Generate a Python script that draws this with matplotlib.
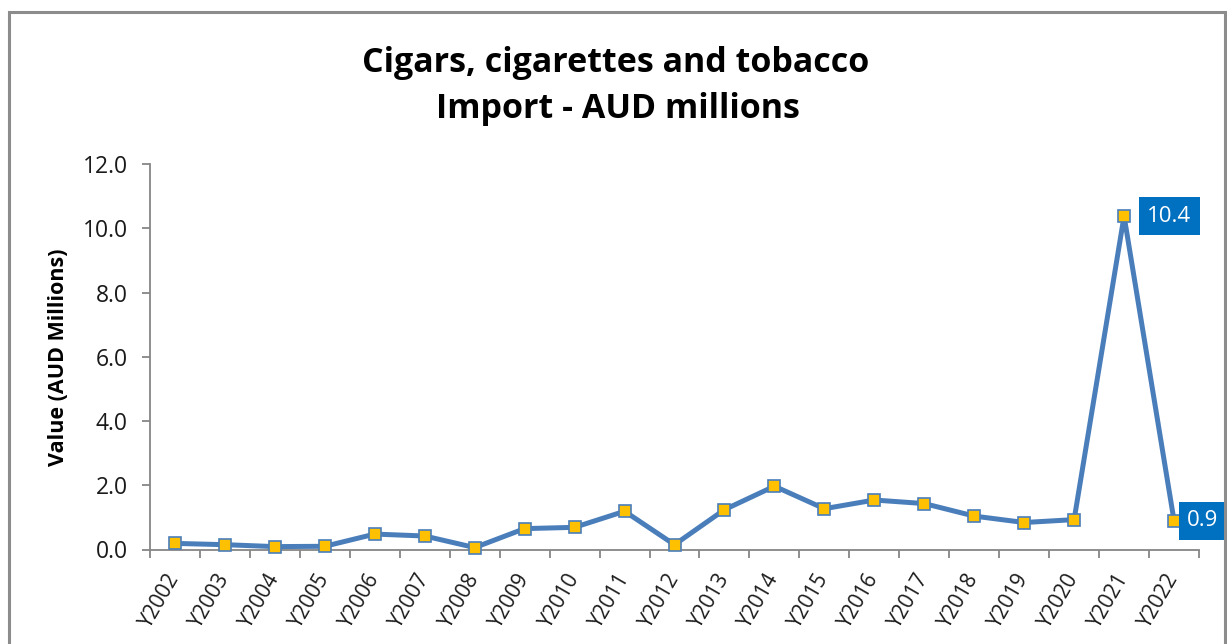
import matplotlib
matplotlib.use("Agg")
import matplotlib.pyplot as plt
from matplotlib.patches import Rectangle

years = ["Y2002", "Y2003", "Y2004", "Y2005", "Y2006", "Y2007", "Y2008", "Y2009",
         "Y2010", "Y2011", "Y2012", "Y2013", "Y2014", "Y2015", "Y2016", "Y2017",
         "Y2018", "Y2019", "Y2020", "Y2021", "Y2022"]
values = [0.19, 0.15, 0.09, 0.10, 0.48, 0.42, 0.06, 0.65, 0.69, 1.19, 0.15,
          1.24, 1.97, 1.27, 1.54, 1.43, 1.04, 0.84, 0.93, 10.38, 0.9]
labelled = {19: "10.4", 20: "0.9"}
yticks = [0, 2, 4, 6, 8, 10, 12]

plt.rcParams['font.family'] = ['Open Sans', 'DejaVu Sans']

W, H = 1227, 644
fig = plt.figure(figsize=(W / 100, H / 100), dpi=100)
fig.patch.set_facecolor("white")

# outer chart border
fig.patches.append(Rectangle((9 / W, -0.05), (1225 - 9) / W, (H - 12) / H + 0.05,
                             transform=fig.transFigure, fill=False,
                             edgecolor="#8c8c8c", linewidth=2.2))

ax = fig.add_axes([150 / W, 1 - 549.5 / H, (1199 - 150) / W, (549.5 - 164) / H])
x = list(range(len(years)))
ax.plot(x, values, color="#4A7EBB", linewidth=3.6, marker="s", markersize=9,
        markerfacecolor="#FFC000", markeredgecolor="#4A7EBB", markeredgewidth=1.2,
        zorder=3, clip_on=False)

ax.set_xlim(-0.5, len(years) - 0.5)
ax.set_ylim(0, 12)
ax.set_yticks(yticks)
ax.set_yticklabels([f"{v:.1f}" for v in yticks], fontsize=16.5, color="#1a1a1a")
ax.set_xticks(x)
ax.set_xticklabels(years, rotation=60, ha="right", va="center",
                   rotation_mode="anchor", fontsize=15, color="#1a1a1a")
ax.set_xticks([i - 0.5 for i in range(len(years) + 1)], minor=True)
ax.tick_params(axis="x", which="major", length=0, pad=18)
ax.tick_params(axis="x", which="minor", length=6, color="#868686", width=1.3,
               direction="out")
ax.tick_params(axis="y", length=6, color="#868686", width=1.3, pad=10)

for s in ["top", "right"]:
    ax.spines[s].set_visible(False)
for s in ["left", "bottom"]:
    ax.spines[s].set_color("#868686")
    ax.spines[s].set_linewidth(1.3)

ax.set_ylabel("Value (AUD Millions)", fontsize=15.5, fontweight="bold", labelpad=10)

# label offsets (points) from marker to text start
label_offsets = {19: 16.5, 20: 9.5}
for i, txt in labelled.items():
    ax.annotate(txt, (i, values[i]), xytext=(label_offsets[i], 0),
                textcoords="offset points", ha="left", va="center",
                fontsize=16, color="white",
                bbox=dict(boxstyle="square,pad=0.38", facecolor="#0070C0",
                          edgecolor="none"), annotation_clip=False, zorder=4)

fig.text(616 / W, 1 - 72 / H, "Cigars, cigarettes and tobacco", ha="center",
         va="baseline", fontsize=24.5, fontweight="bold", color="black")
fig.text(618 / W, 1 - 118 / H, "Import - AUD millions", ha="center",
         va="baseline", fontsize=24.5, fontweight="bold", color="black")

fig.savefig("out.png", dpi=100)
